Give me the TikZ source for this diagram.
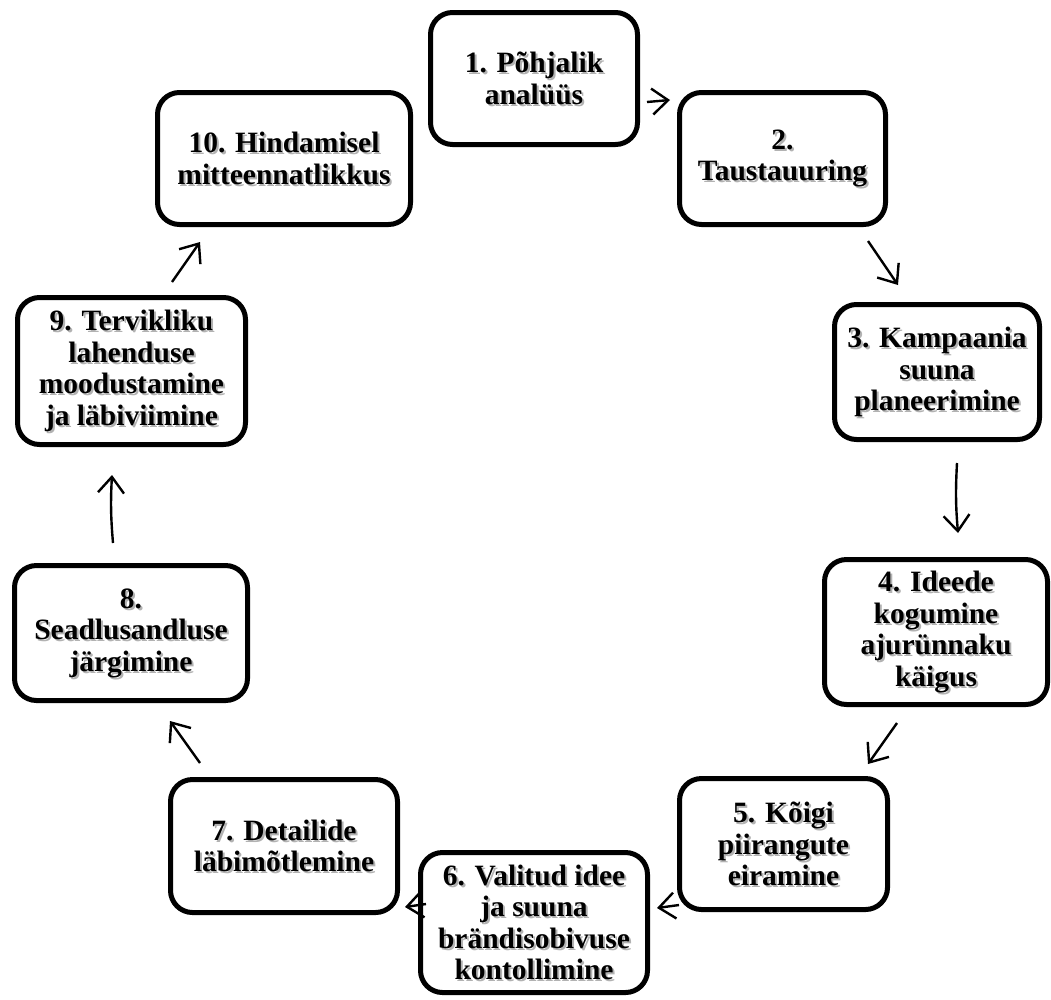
\documentclass[tikz,border=0pt]{standalone}
\usepackage{fontspec}
\setmainfont{Liberation Serif}
\usetikzlibrary{arrows.meta}
\tikzset{
  boxstyle/.style={draw=black, line width=5pt, rounded corners=22pt, align=center,
    inner sep=0pt, font=\bfseries\fontsize{29.5}{31.5}\selectfont, text=black},
  shadowtext/.style={align=center, inner sep=0pt,
    font=\bfseries\fontsize{29.5}{31.5}\selectfont, text=black!30},
  flowarrow/.style={line width=2.4pt, -{Straight Barb[length=16pt,width=26pt,line width=2.4pt]}}
}
\newcommand\stepbox[6]{%
  \node[shadowtext] at ({(#2+#4)/2+2},{(#3+#5)/2+2}) {#6};
  \node[boxstyle, minimum width={#4-#2-5}, minimum height={#5-#3-5}] (#1) at ({(#2+#4)/2},{(#3+#5)/2}) {#6};
}
\begin{document}
\begin{tikzpicture}[x=1pt,y=-1pt]
\useasboundingbox[fill=white] (0,0) rectangle (1051,999);
\stepbox{b1}{428}{10}{640}{147}{1. Põhjalik\\analüüs}
\stepbox{b2}{677}{90}{888}{227}{2.\\Taustauuring}
\stepbox{b3}{832}{302}{1042}{442}{3. Kampaania\\suuna\\planeerimine}
\stepbox{b4}{822}{557}{1050}{707}{4. Ideede\\kogumine\\ajurünnaku\\käigus}
\stepbox{b5}{677}{776}{890}{912}{5. Kõigi\\piirangute\\eiramine}
\stepbox{b6}{418}{850}{650}{995}{6. Valitud idee\\ja suuna\\brändisobivuse\\kontollimine}
\stepbox{b7}{168}{777}{400}{915}{7. Detailide\\läbimõtlemine}
\stepbox{b8}{12}{563}{250}{703}{8.\\Seadlusandluse\\järgimine}
\stepbox{b9}{15}{295}{248}{447}{9. Tervikliku\\lahenduse\\moodustamine\\ja läbiviimine}
\stepbox{b10}{155}{90}{413}{227}{10. Hindamisel\\mitteennatlikkus}

\coordinate (a1s) at (647,102); \coordinate (a1e) at (670,100);
\coordinate (a2s) at (868,241); \coordinate (a2e) at (898,285);
\coordinate (a3s) at (957,463); \coordinate (a3e) at (958,533);
\coordinate (a4s) at (897,723); \coordinate (a4e) at (868,764);
\coordinate (a5s) at (679,905); \coordinate (a5e) at (657,908);
\coordinate (a6s) at (426,904); \coordinate (a6e) at (405,907);
\coordinate (a7s) at (200,763); \coordinate (a7e) at (170,721);
\coordinate (a8s) at (113,543); \coordinate (a8e) at (112,475);
\coordinate (a9s) at (172,282); \coordinate (a9e) at (200,242);

\draw[flowarrow] (a1s) -- (a1e);
\draw[flowarrow] (a2s) -- (a2e);
\draw[flowarrow] (a3s) to[bend right=4] (a3e);
\draw[flowarrow] (a4s) -- (a4e);
\draw[flowarrow] (a5s) -- (a5e);
\draw[flowarrow] (a6s) -- (a6e);
\draw[flowarrow] (a7s) -- (a7e);
\draw[flowarrow] (a8s) to[bend left=4] (a8e);
\draw[flowarrow] (a9s) -- (a9e);
\end{tikzpicture}
\end{document}
